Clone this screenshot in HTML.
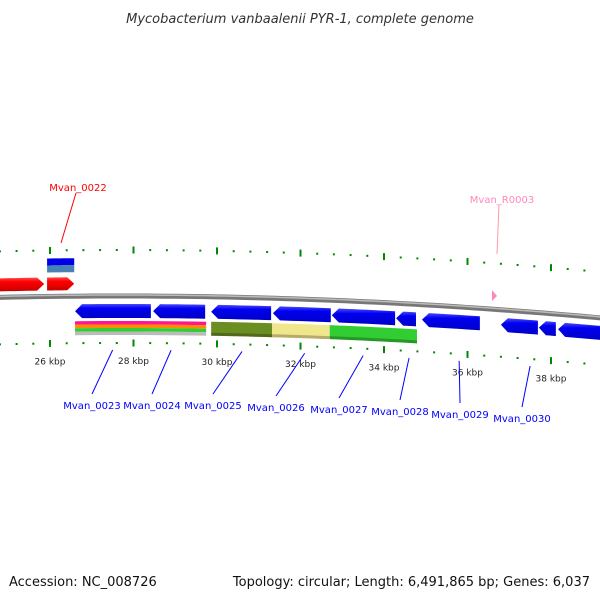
<!DOCTYPE html>
<html><head><meta charset="utf-8"><style>
body{margin:0;background:#fff}
svg{display:block;font-family:"DejaVu Sans","Liberation Sans",sans-serif}
</style></head><body>
<svg id="c" width="600" height="600" viewBox="0 0 600 600">
<defs>
<linearGradient id="gb" x1="0" y1="0" x2="0" y2="1"><stop offset="0" stop-color="#4a4aff"/><stop offset="0.3" stop-color="#0000f0"/><stop offset="1" stop-color="#0000c8"/></linearGradient>
<linearGradient id="gr" x1="0" y1="0" x2="0" y2="1"><stop offset="0" stop-color="#ff4a4a"/><stop offset="0.3" stop-color="#f00"/><stop offset="1" stop-color="#c80000"/></linearGradient>
</defs>
<text x="300" y="23" text-anchor="middle" font-size="13" font-style="italic" fill="#333">Mycobacterium vanbaalenii PYR-1, complete genome</text>
<text x="9" y="586" font-size="13" fill="#111">Accession: NC_008726</text>
<text x="590" y="586" text-anchor="end" font-size="13" fill="#111">Topology: circular; Length: 6,491,865 bp; Genes: 6,037</text>
<g id="g"></g>
</svg>
<script>
// data (kbp)
const tickStart = 24.4, tickEnd = 39.6, tickStep = 0.4;
const majorLabels = [26, 28, 30, 32, 34, 36, 38];
const fwdGenes = [[24.80, 25.86], [25.93, 26.58]];
const revGenes = [[26.60,28.44],[28.47,29.74],[29.86,31.32],[31.34,32.75],[32.75,34.29],[34.29,34.79],[34.91,36.32],[36.80,37.71],[37.71,38.14],[38.17,39.2]];
const featStripes = [[26.60,29.74]];
const featBlocks = [[29.86,31.32,'#6b8e23'],[31.32,32.70,'#f0e68c'],[32.70,34.79,'#32cd32']];
const geneNames = ['Mvan_0023','Mvan_0024','Mvan_0025','Mvan_0026','Mvan_0027','Mvan_0028','Mvan_0029','Mvan_0030'];
const nameLabelX = [92,152,213,276,339,400,460,522];
const nameLabelY = [405,405,405,407,409,411,414,418];
const nameAnchorKb = [27.5,28.9,30.6,32.1,33.5,34.6,35.8,37.5];

const G = document.getElementById('g');
const NS = 'http://www.w3.org/2000/svg';
const X = kb => 50 + (kb - 26) * 41.75;
const B = x => 296 + 9.5e-5 * (x - 120) * (x - 120);
function mk(t, a, p){const e=document.createElementNS(NS,t);for(const k in a)e.setAttribute(k,a[k]);(p||G).appendChild(e);return e;}
function band(x1,x2,o1,o2){const pts=[];for(let i=0;i<=10;i++){const x=x1+(x2-x1)*i/10;pts.push(x+','+(B(x)+o1));}
for(let i=10;i>=0;i--){const x=x1+(x2-x1)*i/10;pts.push(x+','+(B(x)+o2));}return pts.join(' ');}
function arrow(x1,x2,o1,o2,dir){const h=7,pts=[];const m=(o1+o2)/2;
 if(dir>0){const xe=Math.max(x1,x2-h);for(let i=0;i<=8;i++){const x=x1+(xe-x1)*i/8;pts.push(x+','+(B(x)+o1));}pts.push(x2+','+(B(x2)+m));for(let i=8;i>=0;i--){const x=x1+(xe-x1)*i/8;pts.push(x+','+(B(x)+o2));}}
 else{const xs=Math.min(x2,x1+h);pts.push(x1+','+(B(x1)+m));for(let i=0;i<=8;i++){const x=xs+(x2-xs)*i/8;pts.push(x+','+(B(x)+o1));}for(let i=8;i>=0;i--){const x=xs+(x2-xs)*i/8;pts.push(x+','+(B(x)+o2));}}
 return pts.join(' ');}
// backbone
let d='';for(let x=-5;x<=605;x+=10)d+=(x<0?'M':'L')+x+','+B(x);
let e=mk('path',{d:d,stroke:'#777',"stroke-width":5,fill:'none'});

e=mk('path',{d:d,stroke:'#bbb',"stroke-width":1.5,fill:'none',transform:'translate(0,-1)'});

// ticks
const n=Math.round((tickEnd-tickStart)/tickStep);
for(let i=0;i<=n;i++){const kb=tickStart+i*tickStep;const x=X(kb);const maj=Math.abs(kb/2-Math.round(kb/2))<0.01;
 for(const off of [-46,47]){const y=B(x)+off;const len=maj?7:2;
  e=mk('line',{x1:x,y1:y-len/2,x2:x,y2:y+len/2,stroke:'#080',"stroke-width":2});
  }}
majorLabels.forEach(kb=>{const x=X(kb);e=mk('text',{x:x,y:B(x)+68,"text-anchor":'middle',"font-size":9,fill:'#222'});e.textContent=kb+' kbp';
 });
// forward genes
fwdGenes.forEach(g=>{e=mk('polygon',{points:arrow(X(g[0]),X(g[1]),-19,-6,1),fill:'url(#gr)'});
 });
const g2=fwdGenes[1];
e=mk('polygon',{points:band(X(g2[0]),X(g2[1]),-38,-31),fill:'#0000e8'});
e=mk('polygon',{points:band(X(g2[0]),X(g2[1]),-31,-24),fill:'#4682b4'});
// reverse genes
revGenes.forEach(g=>{e=mk('polygon',{points:arrow(X(g[0]),X(g[1])-1,8,22,-1),fill:'url(#gb)'});
 });
// feature stripes
const sc=['#ff1493','#ff8c00','#32cd32','#bbb'];
featStripes.forEach(f=>sc.forEach((c,i)=>{e=mk('polygon',{points:band(X(f[0]),X(f[1]),25+i*3.5,28.5+i*3.5),fill:c});
 }));
featBlocks.forEach(f=>{e=mk('polygon',{points:band(X(f[0]),X(f[1]),25,39),fill:f[2]});
 e=mk('polygon',{points:band(X(f[0]),X(f[1]),36,39),fill:'rgba(0,0,0,0.25)'});});
// gene name labels
geneNames.forEach((nm,i)=>{const ax=X(nameAnchorKb[i]);
 e=mk('line',{x1:ax,y1:B(ax)+54,x2:nameLabelX[i]-(i<3?0:0),y2:nameLabelY[i]-11,stroke:'#00f',"stroke-width":1});
 
 e=mk('text',{x:nameLabelX[i],y:nameLabelY[i]+4,"text-anchor":'middle',"font-size":10,fill:'#00f'});e.textContent=nm;
 });
e=mk('line',{x1:61,y1:243,x2:76,y2:193,stroke:'#f00',"stroke-width":1});
e=mk('text',{x:78,y:191,"text-anchor":'middle',"font-size":10,fill:'#f00'});e.textContent='Mvan_0022';
e=mk('line',{x1:497,y1:254,x2:499,y2:205,stroke:'#f9a',"stroke-width":1});
e=mk('text',{x:502,y:203,"text-anchor":'middle',"font-size":10,fill:'#f8b'});e.textContent='Mvan_R0003';
e=mk('polygon',{points:'492,290 497,296 492,301',fill:'#f8b'});
</script>
</body></html>
